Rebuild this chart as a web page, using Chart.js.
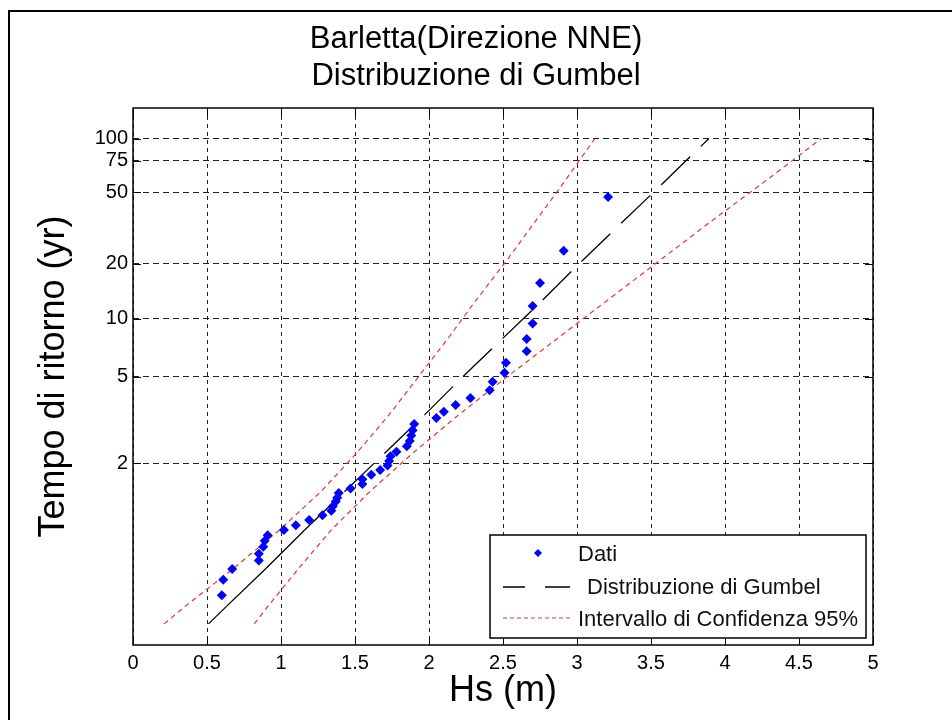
<!DOCTYPE html>
<html>
<head>
<meta charset="utf-8">
<script src="https://cdn.jsdelivr.net/npm/chart.js@4.4.1/dist/chart.umd.min.js"></script>
<style>
  html, body { margin: 0; padding: 0; background: #fff; overflow: hidden; }
  #wrap { position: relative; width: 952px; height: 720px; overflow: hidden; }
  #chart { position: absolute; left: 0; top: 0; }
  #frame { position: absolute; left: 8px; top: 10px; width: 980px; height: 760px; border: 2px solid #000; pointer-events: none; }
</style>
</head>
<body>
<div id="wrap">
  <canvas id="chart" width="952" height="720"></canvas>
  <div id="frame"></div>
</div>
<script>
const FONT = '"Liberation Sans", Arial, Helvetica, sans-serif';

// return periods shown on the Gumbel axis (yr)
const returnPeriods = [2, 5, 10, 20, 50, 75, 100];

// observed Hs (m), sorted, and their plotting position as Gumbel reduced variate
const dataHs = [0.60, 0.61, 0.67, 0.85, 0.85, 0.88, 0.89, 0.91, 1.02, 1.10, 1.19, 1.28,
  1.34, 1.35, 1.37, 1.38, 1.39, 1.47, 1.55, 1.55, 1.61, 1.67, 1.72, 1.73, 1.74, 1.78,
  1.85, 1.87, 1.88, 1.89, 1.90, 2.05, 2.10, 2.18, 2.28, 2.41, 2.43, 2.51, 2.52, 2.66,
  2.66, 2.70, 2.70, 2.75, 2.91, 3.21];
const dataVariate = [-1.35, -1.15, -1.01, -0.90, -0.81, -0.72, -0.64, -0.57, -0.50, -0.44,
  -0.37, -0.31, -0.25, -0.19, -0.13, -0.08, -0.02, 0.04, 0.10, 0.16, 0.22, 0.28, 0.34,
  0.40, 0.46, 0.52, 0.59, 0.66, 0.73, 0.80, 0.88, 0.96, 1.04, 1.13, 1.22, 1.32, 1.43,
  1.55, 1.68, 1.83, 1.99, 2.19, 2.42, 2.72, 3.14, 3.84];

// fitted line and 95% band, read at these reduced variates
const curveVariate = [-1.725, -1.5, -1.0, -0.5, 0, 0.5, 1.0, 1.5, 2.0, 2.5, 3.0, 3.5, 4.0, 4.6];
const fitHs   = [0.51, 0.63, 0.90, 1.16, 1.43, 1.70, 1.97, 2.23, 2.50, 2.77, 3.03, 3.30, 3.57, 3.89];
const lowerHs = [0.21, 0.35, 0.68, 0.99, 1.27, 1.51, 1.73, 1.93, 2.13, 2.32, 2.52, 2.71, 2.90, 3.12];
const upperHs = [0.82, 0.91, 1.12, 1.34, 1.60, 1.89, 2.20, 2.53, 2.87, 3.21, 3.55, 3.89, 4.24, 4.65];

const gumbelVariate = T => -Math.log(-Math.log(1 - 1 / T));
const toPoints = (xs, ys) => xs.map((x, i) => ({ x, y: ys[i] }));

Chart.defaults.font.family = FONT;
Chart.defaults.color = '#000';

// box round the axes plus the inward tick marks
const axesBox = {
  id: 'axesBox',
  afterDatasetsDraw(chart) {
    const { ctx, chartArea: a, scales: { x, y } } = chart;
    ctx.save();
    ctx.strokeStyle = '#000';
    ctx.lineWidth = 1;
    ctx.beginPath();
    x.ticks.forEach(t => {
      const px = Math.round(x.getPixelForValue(t.value)) + 0.5;
      ctx.moveTo(px, a.bottom); ctx.lineTo(px, a.bottom - 8);
      ctx.moveTo(px, a.top); ctx.lineTo(px, a.top + 8);
    });
    y.ticks.forEach(t => {
      const py = Math.round(y.getPixelForValue(t.value)) + 0.5;
      ctx.moveTo(a.left, py); ctx.lineTo(a.left + 8, py);
      ctx.moveTo(a.right, py); ctx.lineTo(a.right - 8, py);
    });
    ctx.stroke();
    ctx.lineWidth = 1.5;
    ctx.strokeRect(a.left, a.top, a.right - a.left, a.bottom - a.top);
    ctx.restore();
  }
};

// matlab style legend in the lower right corner
const legendBox = {
  id: 'legendBox',
  afterDraw(chart) {
    const { ctx, chartArea: a } = chart;
    const w = 376, h = 103;
    const left = a.right - 7 - w, top = a.bottom - 7 - h;
    ctx.save();
    ctx.fillStyle = '#fff';
    ctx.fillRect(left, top, w, h);
    ctx.strokeStyle = '#000';
    ctx.lineWidth = 1.5;
    ctx.strokeRect(left, top, w, h);

    // Dati
    ctx.fillStyle = '#0000ff';
    ctx.beginPath();
    ctx.moveTo(left + 48, top + 14);
    ctx.lineTo(left + 52, top + 18);
    ctx.lineTo(left + 48, top + 22);
    ctx.lineTo(left + 44, top + 18);
    ctx.closePath();
    ctx.fill();

    // Gumbel
    ctx.strokeStyle = '#000';
    ctx.lineWidth = 1.3;
    ctx.beginPath();
    ctx.moveTo(left + 13, top + 52); ctx.lineTo(left + 35, top + 52);
    ctx.moveTo(left + 55, top + 52); ctx.lineTo(left + 80, top + 52);
    ctx.stroke();

    // confidence band
    ctx.strokeStyle = '#f03030';
    ctx.lineWidth = 1.2;
    ctx.setLineDash([4, 3]);
    ctx.beginPath();
    ctx.moveTo(left + 13, top + 83); ctx.lineTo(left + 80, top + 83);
    ctx.stroke();
    ctx.setLineDash([]);

    ctx.fillStyle = '#111';
    ctx.font = '22px ' + FONT;
    ctx.textBaseline = 'middle';
    ctx.textAlign = 'left';
    ctx.fillText('Dati', left + 88, top + 20);
    ctx.fillText('Distribuzione di Gumbel', left + 97, top + 53);
    ctx.fillText('Intervallo di Confidenza 95%', left + 88, top + 85);
    ctx.restore();
  }
};

new Chart(document.getElementById('chart'), {
  type: 'scatter',
  data: {
    datasets: [
      {
        label: 'Dati',
        data: toPoints(dataHs, dataVariate),
        xAxisID: 'x', yAxisID: 'y',
        pointStyle: 'rectRot',
        pointRadius: 5,
        backgroundColor: '#0000ff',
        borderColor: '#0000ff',
        borderWidth: 0
      },
      {
        type: 'line',
        label: 'Distribuzione di Gumbel',
        data: toPoints(fitHs, curveVariate),
        xAxisID: 'x', yAxisID: 'y',
        borderColor: '#000',
        borderWidth: 1.3,
        pointRadius: 0,
        // dash restarts at every vertex, like the original plot
        segment: {
          borderDash: c => c.p0DataIndex < 3 ? [] : [40, 15],
          borderDashOffset: c => c.p0DataIndex * 1e-4
        }
      },
      {
        type: 'line',
        label: 'Intervallo di Confidenza 95%',
        data: toPoints(lowerHs, curveVariate),
        xAxisID: 'x', yAxisID: 'y',
        borderColor: '#f03030',
        borderWidth: 1.2,
        borderDash: [5, 4],
        pointRadius: 0
      },
      {
        type: 'line',
        label: 'Intervallo di Confidenza 95% (sup)',
        data: toPoints(upperHs, curveVariate),
        xAxisID: 'x', yAxisID: 'y',
        borderColor: '#f03030',
        borderWidth: 1.2,
        borderDash: [5, 4],
        pointRadius: 0
      }
    ]
  },
  options: {
    responsive: false,
    animation: false,
    devicePixelRatio: 1,
    locale: 'en-US',
    events: [],
    layout: { padding: 0 },
    plugins: {
      legend: { display: false },
      tooltip: { enabled: false },
      title: {
        display: true,
        text: ['Barletta(Direzione NNE)', 'Distribuzione di Gumbel'],
        color: '#000',
        font: { family: FONT, size: 31, weight: 'normal', lineHeight: 1.2 },
        padding: { top: 21, bottom: 12.6 }
      }
    },
    scales: {
      x: {
        type: 'linear',
        position: 'bottom',
        min: 0,
        max: 5,
        ticks: {
          stepSize: 0.5, padding: 6, color: '#000', font: { size: 20 },
          callback: v => String(Math.round(v * 10) / 10)
        },
        grid: { color: '#222', lineWidth: 1, drawTicks: false },
        border: { display: false, dash: [4, 4] },
        title: {
          display: true, text: 'Hs (m)', color: '#000',
          font: { size: 36 }, padding: { top: 0, bottom: 7.4 }
        },
        afterFit: s => { s.height = 75; }
      },
      y: {
        type: 'linear',
        position: 'left',
        min: -2,
        max: 5,
        afterBuildTicks: s => { s.ticks = returnPeriods.map(T => ({ value: gumbelVariate(T) })); },
        ticks: {
          padding: 5, color: '#000', font: { size: 20 },
          callback: (v, i) => String(returnPeriods[i])
        },
        grid: { color: '#222', lineWidth: 1, drawTicks: false },
        border: { display: false, dash: [6, 4] },
        title: {
          display: true, text: 'Tempo di ritorno (yr)', color: '#000',
          font: { size: 36 }, padding: { top: 32.9, bottom: 0 }
        },
        afterFit: s => { s.width = 133; }
      },
      yr: {
        type: 'linear',
        position: 'right',
        ticks: { display: false },
        grid: { display: false },
        border: { display: false },
        afterFit: s => { s.width = 79; }
      }
    }
  },
  plugins: [axesBox, legendBox]
});
</script>
</body>
</html>
